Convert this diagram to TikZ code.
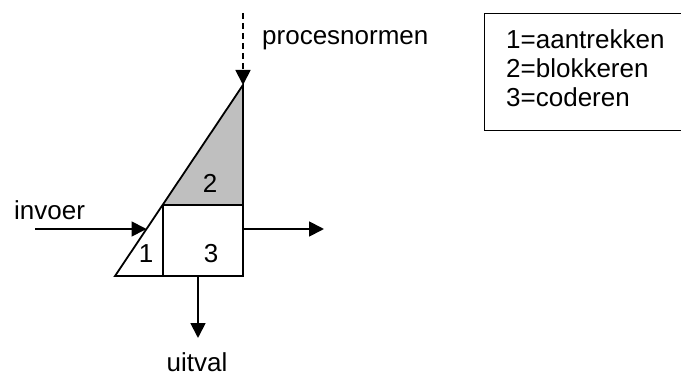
\documentclass[tikz,border=0pt]{standalone}
\usepackage{fontspec}
\setmainfont{Liberation Sans}
\usetikzlibrary{arrows.meta}
\begin{document}
\begin{tikzpicture}[x=1pt,y=-1pt,
  line/.style={line width=1.8pt},
  arr/.style={line width=1.8pt,-{Triangle[length=15pt,width=15pt]}},
  lbl/.style={font=\fontsize{26}{29}\selectfont,inner sep=0pt},
  num/.style={font=\fontsize{26}{29}\selectfont,inner sep=0pt}]
\useasboundingbox (0,0) rectangle (681,385);
% coordinates
\coordinate (A) at (115,276);
\coordinate (T) at (243,85);
\coordinate (B) at (243,276);
\coordinate (H) at (163.3,205);
\coordinate (HR) at (243,205);
\coordinate (V) at (163.3,276);
% grey part
\fill[gray!50] (H) -- (T) -- (HR) -- cycle;
\draw[line] (A) -- (T) -- (B) -- cycle;
\draw[line] (H) -- (HR);
\draw[line] (H) -- (V);
\node[num] (n2) at (210,183) {2};
\node[num] (n1) at (146,254) {1};
\node[num] (n3) at (211,254) {3};
% input
\coordinate (inS) at (35,229);
\coordinate (inE) at (146.5,229);
\draw[arr] (inS) -- (inE);
\node[lbl,anchor=west] (invoer) at (14,210) {invoer};
% output
\coordinate (outS) at (243,229);
\coordinate (outE) at (324,229);
\draw[arr] (outS) -- (outE);
% down
\coordinate (dS) at (198,276);
\coordinate (dE) at (198,338);
\draw[arr] (dS) -- (dE);
\node[lbl] (uitval) at (197,362) {uitval};
% dashed top
\coordinate (tS) at (243,13);
\draw[arr,dash pattern=on 6pt off 4pt] (tS) -- (T);
\node[lbl,anchor=west] (proc) at (262,40) {procesnormen};
% legend
\node[draw,line width=1.5pt,minimum width=197pt,minimum height=117pt,anchor=north west,inner sep=0pt] (leg) at (483.5,13) {};
\node[lbl,anchor=north west,align=left] (legtext) at (506,29) {1=aantrekken\\2=blokkeren\\3=coderen};
\end{tikzpicture}
\end{document}
